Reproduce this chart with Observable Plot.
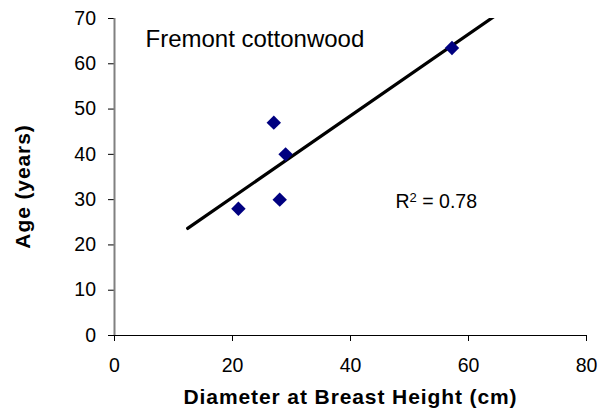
<!DOCTYPE html>
<html>
<head>
<meta charset="utf-8">
<script src="https://cdn.jsdelivr.net/npm/d3@7"></script>
<script src="https://cdn.jsdelivr.net/npm/@observablehq/plot@0.6"></script>
<style>
  html, body { margin: 0; padding: 0; background: #fff; }
  svg { display: block; }
</style>
</head>
<body>
<div id="chart"></div>
<script>
// Data
const diameter = [27, 29, 28, 21, 57.2];   // cm
const age      = [47, 40, 30, 28, 63.5];   // years
const xTicks = [0, 20, 40, 60, 80];
const yTicks = [0, 10, 20, 30, 40, 50, 60, 70];
const speciesLabel = "Fremont cottonwood";
const r2Base = "R", r2Sup = "2", r2Rest = " = 0.78";
const xTitle = "Diameter at Breast Height (cm)";
const yTitle = "Age (years)";
const trendFrom = 12.4;  // trendline start (backward forecast)
const trendTo = 80;      // trendline end (clipped at frame)

const points = diameter.map((d, i) => ({x: d, y: age[i]}));

// least squares fit
const mx = d3.mean(diameter), my = d3.mean(age);
const sxy = d3.sum(diameter, (d, i) => (d - mx) * (age[i] - my));
const sxx = d3.sum(diameter, d => (d - mx) ** 2);
const slope = sxy / sxx, intercept = my - slope * mx;
const trend = [trendFrom, trendTo].map(x => ({x, y: intercept + slope * x}));

const font = "'Liberation Sans', Arial, sans-serif";
const r2Full = r2Base + r2Sup + r2Rest;

const chart = Plot.plot({
  width: 601, height: 411,
  marginLeft: 114, marginRight: 15, marginTop: 18, marginBottom: 76,
  style: {fontFamily: font, background: "#fff", color: "#000"},
  x: {domain: [0, 80]},
  y: {domain: [0, 70]},
  marks: [
    Plot.axisX({ticks: xTicks, tickSize: 6, tickPadding: 17, fontSize: 19.5, label: null, stroke: "#000"}),
    Plot.axisY({ticks: yTicks, tickSize: 6, tickPadding: 12.5, fontSize: 19.5, label: null, stroke: "#000"}),
    Plot.ruleX([0], {stroke: "#808080", strokeWidth: 2}),
    Plot.ruleY([0], {stroke: "#000", strokeWidth: 1}),
    Plot.line(trend, {x: "x", y: "y", stroke: "#000", strokeWidth: 3.2, strokeLinecap: "round", clip: true}),
    Plot.dot(points, {x: "x", y: "y", symbol: "diamond2", r: 6.5, fill: "#000080", stroke: "none"}),
    Plot.text([speciesLabel], {frameAnchor: "top-left", dx: 31, dy: 21, textAnchor: "start", lineAnchor: "middle", fontSize: 24, fill: "#000"}),
    Plot.text([r2Full], {frameAnchor: "top-left", dx: 281, dy: 183, textAnchor: "start", lineAnchor: "middle", fontSize: 19.5, fill: "#000"}),
    Plot.text([xTitle], {frameAnchor: "bottom", dy: 61.5, textAnchor: "middle", lineAnchor: "middle", fontSize: 21, fontWeight: "bold", fill: "#000"}),
    Plot.text([yTitle], {frameAnchor: "left", dx: -91, dy: 9.5, rotate: -90, textAnchor: "middle", lineAnchor: "middle", fontSize: 21, fontWeight: "bold", fill: "#000"})
  ]
});
chart.querySelectorAll("text").forEach(t => {
  if (t.textContent === xTitle || t.textContent === yTitle) t.style.letterSpacing = "0.9px";
  if (t.textContent === r2Full) {
    const ns = "http://www.w3.org/2000/svg";
    t.textContent = "";
    const a = document.createElementNS(ns, "tspan"); a.textContent = r2Base;
    const b = document.createElementNS(ns, "tspan"); b.textContent = r2Sup;
    b.setAttribute("font-size", "13"); b.setAttribute("dy", "-6");
    const c = document.createElementNS(ns, "tspan"); c.textContent = r2Rest; c.setAttribute("dy", "6");
    t.append(a, b, c);
  }
});
document.getElementById("chart").appendChild(chart);
</script>
</body>
</html>
